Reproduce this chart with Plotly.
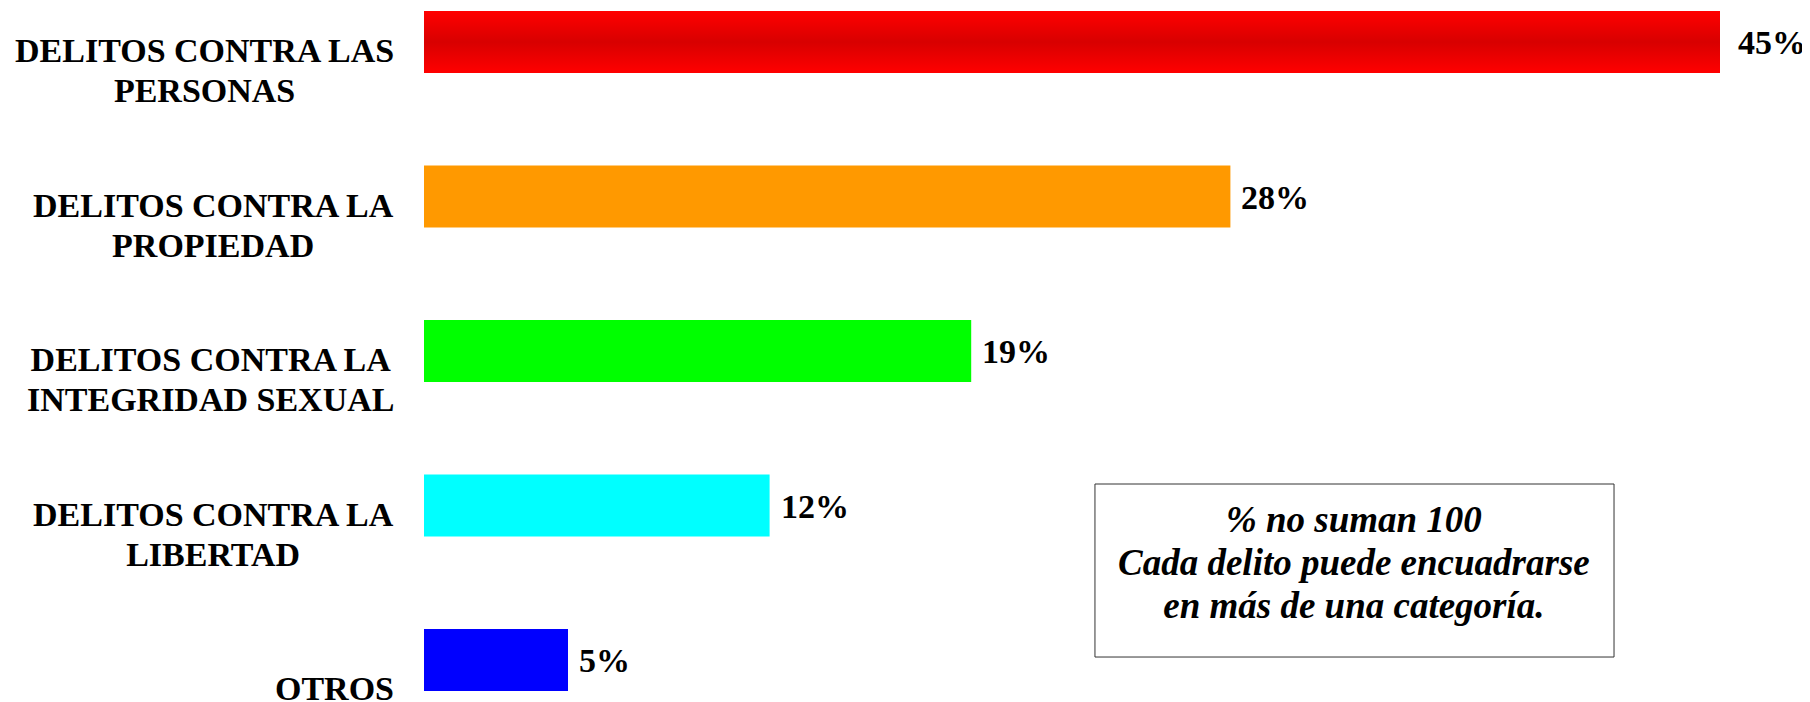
import plotly.graph_objects as go

# Data
categories = [
    "DELITOS CONTRA LAS<br>PERSONAS",
    "DELITOS CONTRA LA<br>PROPIEDAD",
    "DELITOS CONTRA LA<br>INTEGRIDAD SEXUAL",
    "DELITOS CONTRA LA<br>LIBERTAD",
    "OTROS",
]
values = [45, 28, 19, 12, 5]
colors = ["#ff0000", "#ff9900", "#00ff00", "#00ffff", "#0000ff"]
note_lines = [
    "% no suman 100",
    "Cada delito puede encuadrarse",
    "en más de una categoría.",
]

FONT = "Liberation Serif, Times New Roman, serif"
BAR_WIDTH = 0.4
positions = list(range(len(categories)))


def sized(text, px):
    # bigger glyphs inside a smaller base font -> tighter line spacing
    return "<br>".join(
        f'<span style="font-size:{px}px">{line}</span>' for line in text.split("<br>")
    )


fig = go.Figure()

fig.add_trace(
    go.Bar(
        x=values,
        y=positions,
        orientation="h",
        width=BAR_WIDTH,
        marker=dict(color=colors, line=dict(width=0)),
        hoverinfo="skip",
        showlegend=False,
    )
)

# Shaded overlay for the first (red) bar: darker in the middle
half = BAR_WIDTH / 2
fig.add_trace(
    go.Scatter(
        x=[0, values[0], values[0], 0, 0],
        y=[positions[0] - half, positions[0] - half,
           positions[0] + half, positions[0] + half, positions[0] - half],
        mode="lines",
        line=dict(width=0),
        fill="toself",
        fillgradient=dict(
            type="vertical",
            colorscale=[[0, "#ff0000"], [0.5, "#d80000"], [1, "#ff0000"]],
        ),
        hoverinfo="skip",
        showlegend=False,
    )
)

# Category labels (centred lines, right aligned block, sitting a bit low)
for pos, label in zip(positions, categories):
    fig.add_annotation(
        x=0, xref="paper", xanchor="right", xshift=-28,
        y=pos, yref="y", yshift=-29,
        text=sized(label, 34), align="center", showarrow=False,
        font=dict(family=FONT, size=31, color="black", weight="bold"),
    )

# Value labels (the top one sits a little further from its bar)
for i, (pos, val) in enumerate(zip(positions, values)):
    fig.add_annotation(
        x=val, xanchor="left", xshift=16 if i == 0 else 9,
        y=pos, yshift=-1,
        text=f"{val}%", showarrow=False,
        font=dict(family=FONT, size=34, color="black", weight="bold"),
    )

# Note box
fig.add_shape(
    type="rect", xref="paper", yref="paper",
    x0=0.4841, x1=0.8586, y0=0.0648, y1=0.3141,
    line=dict(color="#333333", width=1),
    fillcolor="white",
)
fig.add_annotation(
    x=0.6713, xref="paper", y=0.2017, yref="paper",
    xanchor="center", yanchor="middle",
    text=sized("<br>".join(note_lines), 37), align="center", showarrow=False,
    font=dict(family=FONT, size=33, color="black", weight="bold", style="italic"),
)

# the page body has an 8px margin, so the figure is 8px smaller each way
fig.update_layout(
    width=1802,
    height=694,
    margin=dict(l=416, r=0, t=0, b=0),
    paper_bgcolor="white",
    plot_bgcolor="white",
    xaxis=dict(range=[0, 48.125], visible=False, fixedrange=True),
    yaxis=dict(range=[4.272, -0.220], visible=False, fixedrange=True),
    showlegend=False,
)

fig.write_html("out.html")
